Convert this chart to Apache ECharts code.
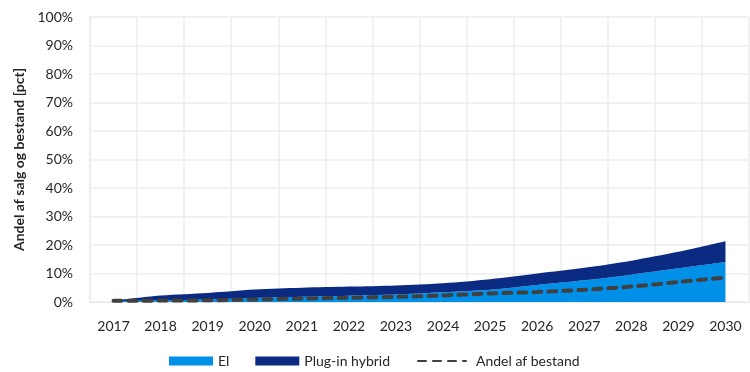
<!DOCTYPE html>
<html>
<head>
<meta charset="utf-8">
<script src="https://cdn.jsdelivr.net/npm/echarts@6/dist/echarts.min.js"></script>
<style>html,body{margin:0;padding:0;background:#fff}#c{width:750px;height:372px}</style>
</head>
<body>
<div id="c"></div>
<script>
const years = ['2017','2018','2019','2020','2021','2022','2023','2024','2025','2026','2027','2028','2029','2030'];
const elValues = [0.3, 0.6, 0.9, 1.4, 1.8, 2.2, 2.6, 3.4, 4.3, 6.0, 7.6, 9.6, 11.8, 14.0];
const phevValues = [0.2, 1.7, 2.3, 3.0, 3.2, 3.2, 3.2, 3.2, 3.7, 4.0, 4.4, 4.9, 5.8, 7.3];
const stockShare = [0.4, 0.5, 0.6, 0.9, 1.2, 1.5, 1.8, 2.3, 3.0, 3.5, 4.3, 5.4, 7.0, 8.6];
const yTicks = [0, 10, 20, 30, 40, 50, 60, 70, 80, 90, 100];

const font = 'Lato, "Open Sans", sans-serif';
const chart = echarts.init(document.getElementById('c'));
chart.setOption({
  animation: false,
  textStyle: { fontFamily: font },
  grid: { left: 90, right: 1, top: 17, bottom: 70, containLabel: false },
  legend: [
    {
      left: 169, top: 354, padding: 0,
      itemWidth: 44, itemHeight: 9, itemGap: 26,
      textStyle: { fontFamily: font, fontSize: 14, color: '#262626' },
      data: [
        { name: 'El', icon: 'rect' },
        { name: 'Plug-in hybrid', icon: 'rect' }
      ]
    },
    {
      left: 417, top: 354, padding: 0,
      itemWidth: 48, itemHeight: 9,
      textStyle: { fontFamily: font, fontSize: 14, color: '#262626', padding: [0, 0, 0, 5] },
      data: [
        { name: 'Andel af bestand', itemStyle: { color: 'rgba(0,0,0,0)', borderWidth: 0, opacity: 0 } }
      ]
    }
  ],
  xAxis: {
    type: 'category',
    data: years,
    boundaryGap: true,
    axisLine: { show: true, lineStyle: { color: '#e6e6e6', width: 1 } },
    axisTick: { show: false },
    axisLabel: { fontFamily: font, fontSize: 14, color: '#262626', margin: 17 },
    splitLine: { show: true, lineStyle: { color: '#ececec', width: 1.5 } }
  },
  yAxis: {
    type: 'value',
    min: yTicks[0], max: yTicks[yTicks.length - 1], interval: 10,
    name: 'Andel af salg og bestand [pct]',
    nameLocation: 'middle',
    nameGap: 62,
    nameRotate: 90,
    nameTextStyle: { fontFamily: font, fontSize: 14, fontWeight: 'bold', color: '#262626' },
    axisLine: { show: true, lineStyle: { color: '#ececec', width: 1.5 } },
    axisTick: { show: false },
    axisLabel: { fontFamily: font, fontSize: 14, color: '#262626', margin: 17, formatter: '{value}%' },
    splitLine: { show: true, lineStyle: { color: '#ececec', width: 1.5 } }
  },
  series: [
    {
      name: 'El', type: 'line', stack: 'salg', data: elValues,
      symbol: 'none', smooth: 0.3,
      lineStyle: { width: 0 },
      itemStyle: { color: '#0090E8' },
      areaStyle: { color: '#0090E8', opacity: 1 }
    },
    {
      name: 'Plug-in hybrid', type: 'line', stack: 'salg', data: phevValues,
      symbol: 'none', smooth: 0.3,
      lineStyle: { width: 0 },
      itemStyle: { color: '#0B2A82' },
      areaStyle: { color: '#0B2A82', opacity: 1 }
    },
    {
      name: 'Andel af bestand', type: 'line', data: stockShare,
      symbol: 'none', smooth: 0.3, z: 5,
      itemStyle: { color: '#404040' },
      lineStyle: { color: '#404040', width: 4, type: [8, 7], cap: 'round' }
    }
  ]
});
</script>
</body>
</html>
